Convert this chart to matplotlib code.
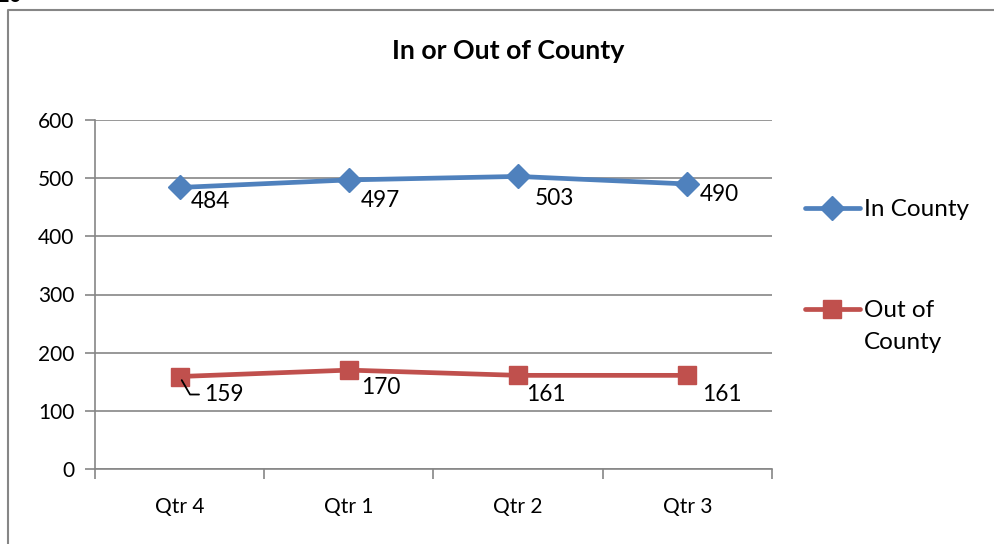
import matplotlib
matplotlib.use("Agg")
import matplotlib.pyplot as plt
from matplotlib.lines import Line2D

categories = ["Qtr 4", "Qtr 1", "Qtr 2", "Qtr 3"]
in_county = [484, 497, 503, 490]
out_county = [159, 170, 161, 161]
series_names = ["In County", "Out of\nCounty"]
title = "In or Out of County"
yticks = [0, 100, 200, 300, 400, 500, 600]

# label offsets in pixels (dx right, dy down)
in_offsets = [(31, 14), (32, 21), (36, 22), (32, 11)]
out_offsets = [(44, 18), (32, 17), (28, 19), (35, 19)]

W, H = 995, 544
fig = plt.figure(figsize=(W / 100, H / 100), dpi=100)
plt.rcParams['font.family'] = ['Lato', 'DejaVu Sans']

GRAY = "#868686"
BLUE = "#4F81BD"
RED = "#C0504D"

ax = fig.add_axes([95 / W, 1 - 469 / H, (772 - 95) / W, (469 - 120) / H])
x = list(range(len(categories)))
ax.set_xlim(-0.5, len(categories) - 0.5)
ax.set_ylim(0, 600)
ax.set_yticks(yticks)
ax.set_yticklabels([str(v) for v in yticks], fontsize=15)
ax.yaxis.grid(True, color=GRAY, lw=1.2)
ax.set_axisbelow(True)
ax.set_xticks(x)
ax.set_xticklabels(categories, fontsize=15)
ax.set_xticks([i - 0.5 for i in range(len(categories) + 1)], minor=True)
ax.tick_params(axis='x', which='major', length=0, pad=20)
ax.tick_params(axis='x', which='minor', length=7, color=GRAY, width=1.2)
ax.tick_params(axis='y', length=7, color=GRAY, width=1.2, pad=8)
for s in ["top", "right"]:
    ax.spines[s].set_visible(False)
for s in ["left", "bottom"]:
    ax.spines[s].set_color(GRAY)
    ax.spines[s].set_linewidth(1.2)

l1, = ax.plot(x, in_county, color=BLUE, lw=3.4, marker='D', markersize=12,
              label=series_names[0], solid_capstyle='round', clip_on=False)
l2, = ax.plot(x, out_county, color=RED, lw=3.4, marker='s', markersize=13.5,
              label=series_names[1], solid_capstyle='round', clip_on=False)

for xi, v, (dx, dy) in zip(x, in_county, in_offsets):
    ax.annotate(str(v), (xi, v), xytext=(dx * 0.72, -dy * 0.72),
                textcoords='offset points', ha='center', va='center', fontsize=16.3)
for i, (xi, v, (dx, dy)) in enumerate(zip(x, out_county, out_offsets)):
    kw = {}
    if i == 0:
        kw = dict(arrowprops=dict(arrowstyle='-', color='black', lw=1.3,
                                  shrinkA=1.5, shrinkB=3,
                                  connectionstyle="angle,angleA=0,angleB=120,rad=0"))
    ax.annotate(str(v), (xi, v), xytext=(dx * 0.72, -dy * 0.72),
                textcoords='offset points', ha='center', va='center', fontsize=16.3, **kw)

fig.text(508 / W, 1 - 51 / H, title, ha='center', va='center', fontsize=19.3, fontweight='bold')

# legend (manual layout, entries from the series)
leg_y = [208, 309]
for line, name, yy in zip([l1, l2], series_names, leg_y):
    fy = 1 - yy / H
    fig.add_artist(Line2D([805 / W, 860 / W], [fy, fy], color=line.get_color(),
                          lw=line.get_linewidth(), solid_capstyle='round',
                          transform=fig.transFigure))
    fig.add_artist(Line2D([832.5 / W], [fy], color=line.get_color(),
                          marker=line.get_marker(), markersize=line.get_markersize(),
                          linestyle='none', transform=fig.transFigure))
    fig.text(864 / W, fy + 9 / H, name, ha='left', va='top', fontsize=17.5,
             linespacing=1.65)

# chart frame
fig.add_artist(Line2D([8 / W, 8 / W, 1.0], [0, 1 - 10 / H, 1 - 10 / H],
                      color=GRAY, lw=1.5, transform=fig.transFigure))
fig.text(-3 / W, 1 + 4 / H, "10", ha='left', va='center', fontsize=16, fontweight='bold')

fig.savefig("out.png", dpi=100)
